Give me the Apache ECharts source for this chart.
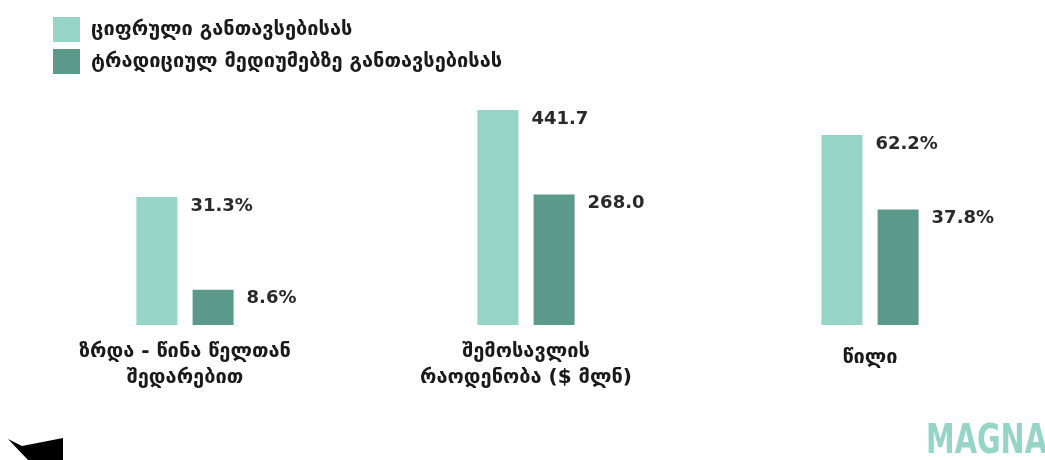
<!DOCTYPE html>
<html><head><meta charset="utf-8">
<script src="https://cdn.jsdelivr.net/npm/echarts@6/dist/echarts.min.js"></script>
<style>html,body{margin:0;padding:0;background:#fff}#c{width:1045px;height:460px}</style>
</head><body><div id="c"></div>
<script>
const seriesNames = ['ციფრული განთავსებისას', 'ტრადიციულ მედიუმებზე განთავსებისას'];
const categories = ['ზრდა - წინა წელთან\nშედარებით', 'შემოსავლის\nრაოდენობა ($ მლნ)', 'წილი'];
const digital = [31.3, 441.7, 62.2];
const traditional = [8.6, 268.0, 37.8];
const valueSuffix = ['%', '', '%'];

const colors = ['#95d4c6', '#5b9a8b'];
const centers = [185, 526, 870];
const axisMax = [55, 462, 73.7];
const labelMargin = [14, 14, 20];
const font = '"DejaVu Sans", sans-serif';

const grids = [], xAxes = [], yAxes = [], series = [];
categories.forEach((cat, i) => {
  grids.push({left: centers[i] - 70, width: 140, top: 100, height: 225});
  xAxes.push({type: 'category', gridIndex: i, data: [cat],
    axisLine: {show: false}, axisTick: {show: false},
    axisLabel: {margin: labelMargin[i], fontFamily: font, fontWeight: 'bold', fontSize: 20, color: '#1a1a1a', lineHeight: 26}});
  yAxes.push({type: 'value', gridIndex: i, min: 0, max: axisMax[i], show: false, splitLine: {show: false}});
  [digital, traditional].forEach((arr, k) => {
    series.push({
      name: seriesNames[k], type: 'bar', xAxisIndex: i, yAxisIndex: i,
      data: [arr[i]], barWidth: 41, barGap: '37%',
      itemStyle: {color: colors[k]},
      label: {show: true, position: ['100%', 0], offset: [13, 0], align: 'left', verticalAlign: 'top',
        fontFamily: font, fontWeight: 'bold', fontSize: 18, color: '#2a2a2a',
        formatter: p => p.value.toFixed(1) + valueSuffix[i]}
    });
  });
});

const chart = echarts.init(document.getElementById('c'));
chart.setOption({
  animation: false,
  legend: {orient: 'vertical', left: 48, top: 12, itemWidth: 27, itemHeight: 25, itemGap: 7,
    icon: 'rect', data: seriesNames,
    textStyle: {fontFamily: font, fontWeight: 'bold', fontSize: 20, color: '#1a1a1a', padding: [0, 0, 0, 6]}},
  grid: grids, xAxis: xAxes, yAxis: yAxes, series: series,
  graphic: [
    {type: 'polygon', shape: {points: [[8,439],[22,446],[63,438],[63,460],[28,460]]}, style: {fill: '#000'}},
    {type: 'text', x: 926, y: 423, scaleX: 0.72, style: {text: 'MAGNA', fontFamily: font, fontWeight: 'bold', fontSize: 40, fill: '#95d4c6'}}
  ]
});
</script></body></html>
